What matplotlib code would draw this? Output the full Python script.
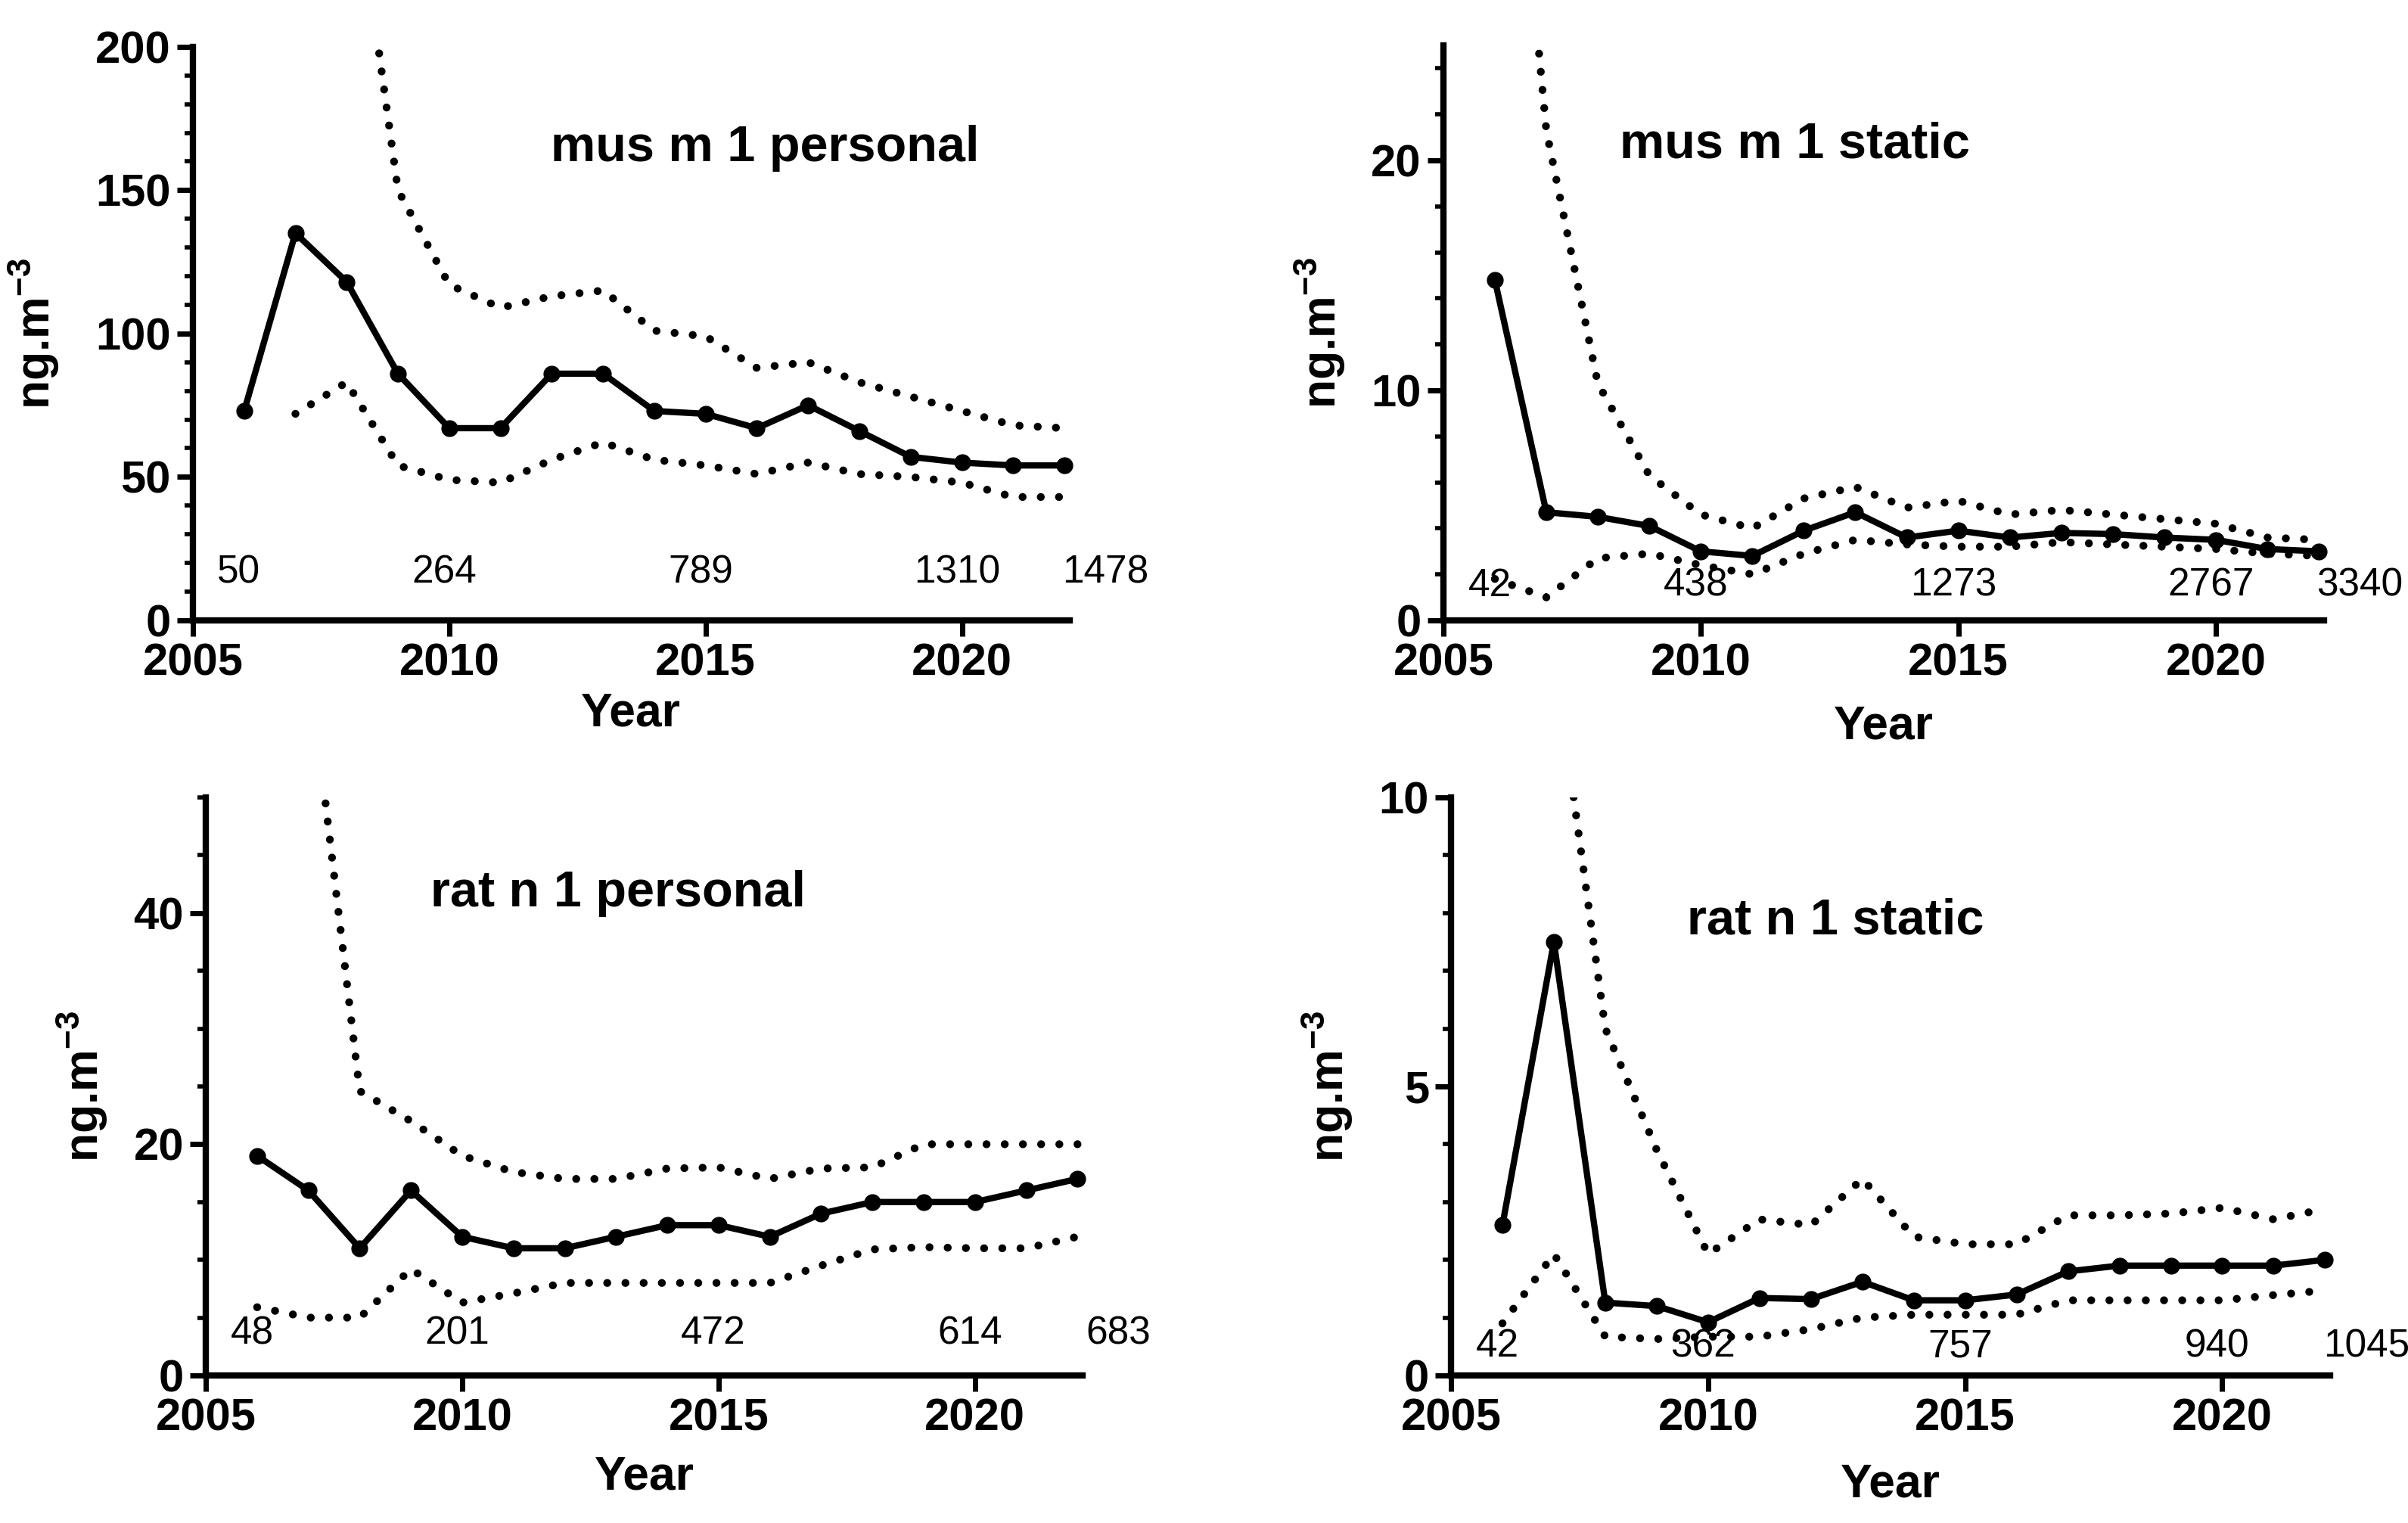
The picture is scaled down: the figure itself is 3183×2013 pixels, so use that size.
import numpy as np
import matplotlib
matplotlib.use("Agg")
import matplotlib.pyplot as plt
from matplotlib.ticker import MultipleLocator
from matplotlib import font_manager

nan = np.nan

# ---------------- data ----------------
years = list(range(2006, 2023))

mus_pers_mean = [73, 135, 118, 86, 67, 67, 86, 86, 73, 72, 67, 75, 66, 57, 55, 54, 54]
mus_pers_upper = [nan, nan, 280, 150, 117, 109, 113, 115, 101, 99, 88, 90, 83, 78, 73, 68, 67]
mus_pers_lower = [nan, 72, 83, 54, 49, 48, 56, 62, 56, 54, 51, 55, 51, 50, 48, 43, 43]
mus_pers_counts = ["50", "264", "789", "1310", "1478"]

mus_stat_mean = [14.8, 4.7, 4.5, 4.1, 3.0, 2.8, 3.9, 4.7, 3.6, 3.9, 3.6, 3.8, 3.75, 3.6, 3.5, 3.1, 3.0]
mus_stat_upper = [45, 21.3, 10.3, 6.3, 4.6, 4.0, 5.3, 5.8, 4.9, 5.2, 4.6, 4.8, 4.6, 4.4, 4.2, 3.6, 3.5]
mus_stat_lower = [1.8, 1.0, 2.7, 2.9, 2.4, 2.0, 2.9, 3.5, 3.3, 3.2, 3.2, 3.4, 3.3, 3.2, 3.1, 2.9, 2.8]
mus_stat_counts = ["42", "438", "1273", "2767", "3340"]

rat_pers_mean = [19, 16, 11, 16, 12, 11, 11, 12, 13, 13, 12, 14, 15, 15, 15, 16, 17]
rat_pers_upper = [nan, 62, 24.6, 22, 19, 17.6, 17, 17, 17.9, 18, 17, 17.9, 18, 20, 20, 20, 20]
rat_pers_lower = [5.9, 5, 5, 9.2, 6.3, 7.1, 8, 8, 8, 8, 8, 9.5, 10.9, 11.1, 11, 11, 12]
rat_pers_counts = ["48", "201", "472", "614", "683"]

rat_stat_mean = [2.6, 7.5, 1.26, 1.2, 0.92, 1.34, 1.32, 1.62, 1.3, 1.3, 1.4, 1.8, 1.9, 1.9, 1.9, 1.9, 2.0]
rat_stat_upper = [nan, 12.5, 6.0, 3.9, 2.1, 2.7, 2.6, 3.4, 2.4, 2.27, 2.27, 2.77, 2.77, 2.8, 2.9, 2.7, 2.88]
rat_stat_lower = [0.9, 2.1, 0.67, 0.63, 0.67, 0.67, 0.8, 1.0, 1.05, 1.05, 1.05, 1.3, 1.3, 1.3, 1.3, 1.39, 1.47]
rat_stat_counts = ["42", "362", "757", "940", "1045"]

count_years = [2006, 2010, 2015, 2020, 2022]
titles = ["mus m 1 personal", "mus m 1 static", "rat n 1 personal", "rat n 1 static"]
xticks = [2005, 2010, 2015, 2020]

# ---------------- fonts ----------------
names = {f.name for f in font_manager.fontManager.ttflist}
main_font = "Liberation Sans" if "Liberation Sans" in names else "DejaVu Sans"
narrow_font = "Liberation Sans Narrow" if "Liberation Sans Narrow" in names else main_font
narrow_size = 42 if narrow_font == "Liberation Sans Narrow" else 37

plt.rcParams["font.family"] = [main_font, "DejaVu Sans"]
plt.rcParams["font.weight"] = "bold"
plt.rcParams["mathtext.fontset"] = "custom"
plt.rcParams["mathtext.rm"] = main_font
plt.rcParams["mathtext.it"] = main_font
plt.rcParams["mathtext.bf"] = main_font + ":bold"

fig = plt.figure(figsize=(31.83, 20.13), dpi=100)

panels = [
    dict(mean=mus_pers_mean, up=mus_pers_upper, lo=mus_pers_lower, counts=mus_pers_counts,
         rect=[0.0801, 0.5927, 0.3641, 0.3766], ymax=200, major=50, minor=10, cy=16.5,
         title_xy=(0.653, 0.80), ylab_x=-0.150, xlab_y=-0.124),
    dict(mean=mus_stat_mean, up=mus_stat_upper, lo=mus_stat_lower, counts=mus_stat_counts,
         rect=[0.5994, 0.5927, 0.3657, 0.3775], ymax=25, major=10, minor=2, cy=1.5,
         title_xy=(0.399, 0.805), ylab_x=-0.109, xlab_y=-0.145),
    dict(mean=rat_pers_mean, up=rat_pers_upper, lo=rat_pers_lower, counts=rat_pers_counts,
         rect=[0.0855, 0.0969, 0.3641, 0.3795], ymax=50, major=20, minor=5, cy=3.6,
         title_xy=(0.470, 0.811), ylab_x=-0.110, xlab_y=-0.137),
    dict(mean=rat_stat_mean, up=rat_stat_upper, lo=rat_stat_lower, counts=rat_stat_counts,
         rect=[0.6026, 0.0969, 0.3651, 0.3795], ymax=10, major=5, minor=1, cy=0.5,
         title_xy=(0.437, 0.764), ylab_x=-0.109, xlab_y=-0.150),
]

for p, title in zip(panels, titles):
    ax = fig.add_axes(p["rect"])
    dot = dict(color="black", lw=7.5, linestyle=(0, (0.01, 2.3)), dash_capstyle="round")
    ax.plot(years, p["up"], **dot)
    ax.plot(years, p["lo"], **dot)
    ax.plot(years, p["mean"], "-o", color="black", lw=6, ms=15, clip_on=False, zorder=3)

    ax.set_xlim(2005, 2022.1)
    ax.set_ylim(0, p["ymax"])
    ax.set_xticks(xticks)
    ax.yaxis.set_major_locator(MultipleLocator(p["major"]))
    ax.yaxis.set_minor_locator(MultipleLocator(p["minor"]))
    for s in ["top", "right"]:
        ax.spines[s].set_visible(False)
    for s in ["left", "bottom"]:
        ax.spines[s].set_linewidth(6)
    ax.tick_params(which="major", length=15, width=5, labelsize=43, pad=6, direction="out")
    ax.tick_params(which="minor", length=8, width=4, direction="out")
    for lbl in ax.get_xticklabels() + ax.get_yticklabels():
        lbl.set_fontweight("bold")

    ax.set_ylabel(r"ng.m$^{-3}$", fontsize=45, fontweight="bold")
    ax.yaxis.set_label_coords(p["ylab_x"], 0.5)
    ax.set_xlabel("Year", fontsize=45, fontweight="bold", va="top")
    ax.xaxis.set_label_coords(0.5, p["xlab_y"])

    ax.text(p["title_xy"][0], p["title_xy"][1], title, transform=ax.transAxes,
            ha="center", va="baseline", fontsize=48, fontweight="bold")

    for i, (cyr, ctxt) in enumerate(zip(count_years, p["counts"])):
        xx = cyr + 0.8 if i == len(count_years) - 1 else cyr - 0.1
        ax.text(xx, p["cy"], ctxt, ha="center", va="center", fontsize=narrow_size,
                fontweight="normal", family=[narrow_font, "DejaVu Sans"], clip_on=False)

fig.savefig("out.png", dpi=100)
